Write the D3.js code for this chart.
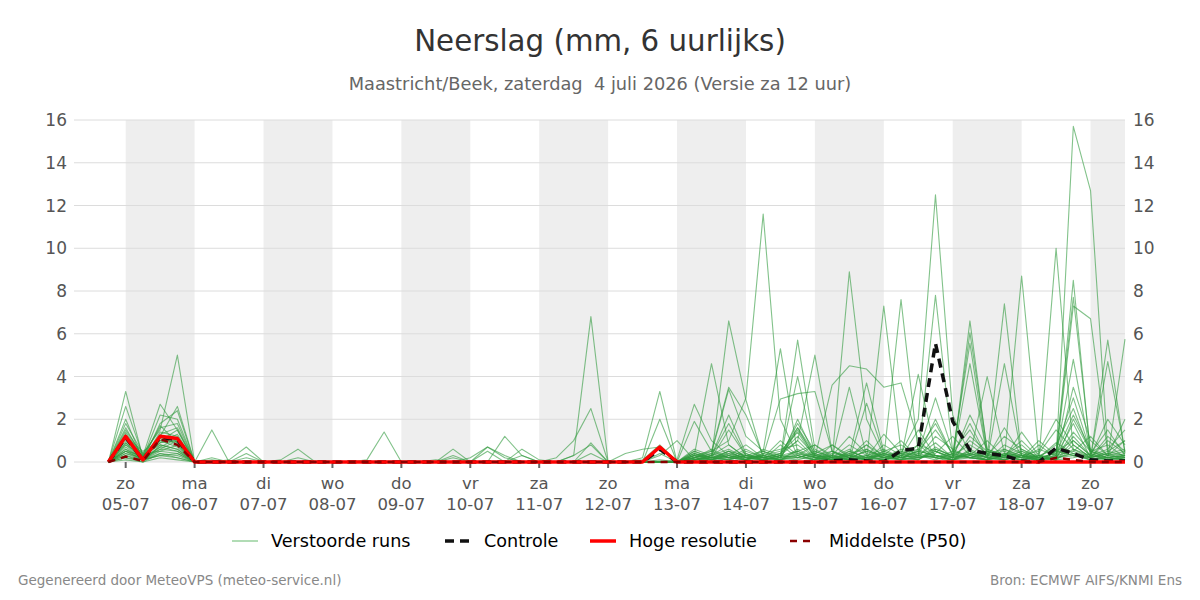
<!DOCTYPE html>
<html><head><meta charset="utf-8">
<script src="https://cdn.jsdelivr.net/npm/d3@7"></script>
<style>
body{margin:0;background:#fff}
text{font-family:"DejaVu Sans",sans-serif}
</style></head>
<body><svg id="c" width="1200" height="600"></svg>
<script>
// ---------- DATA ----------
const title = "Neerslag (mm, 6 uurlijks)";
const subtitle = "Maastricht/Beek, zaterdag  4 juli 2026 (Versie za 12 uur)";
const dayNames = ["zo","ma","di","wo","do","vr","za","zo","ma","di","wo","do","vr","za","zo"];
const dayDates = ["05-07","06-07","07-07","08-07","09-07","10-07","11-07","12-07","13-07","14-07","15-07","16-07","17-07","18-07","19-07"];
const yTicks = [0,2,4,6,8,10,12,14,16];
const firstStepUTC = [2026,6,4,18]; // 4 juli 18:00, 6-uurs stappen
const stepHours = 6;

// Hoge resolutie (60 stappen)
const hires = [0,1.2,0.1,1.2,1.1,0, 0,0,0,0,0,0,0,0,0,0,0,0,0,0,0,0,0,0,0,0,0, 0,0,0,0,0,0.7,0, 0,0,0,0,0,0,0,0,0,0,0,0,0,0,0,0,0,0,0,0,0,0,0,0,0,0];
// Controle
const control = [0,1.15,0.1,1.15,1.05,0, 0,0,0,0,0,0,0,0,0,0,0,0,0,0,0,0,0,0,0,0,0, 0,0,0,0,0,0.6,0, 0,0,0,0,0,0,0,0,0.05,0.1,0.05,0,0.53,0.65,5.55,1.9,0.56,0.4,0.3,0.05,0,0.65,0.4,0.1,0.05,0.05];
// Middelste (P50)
const p50 = [0,0.25,0.05,1.07,0.8,0, 0,0,0,0,0,0,0,0,0,0,0,0,0,0,0,0,0,0,0,0,0, 0,0,0,0,0,0,0, 0,0,0,0,0,0,0,0,0,0,0,0,0,0,0,0,0,0,0,0,0,0.2,0.1,0,0,0];

// Verstoorde runs
const members = [
[0,3.3,0.2,1.2,2.6,0, 0.2,0,0,0,0,0,0,0,0,0,0,0,0,0,0,0,0,0,0,0,0, 0,0,0,0,0,0,0, 0.2,0.5,1.0,3.0,11.6,2.0,0.3,0.1,0.5,0.2,0.8,0.1,0.3,0.5,1.5,0.4,0.2,0.1,0.6,0.3,0,0.5,1.0,0.3,0.2,0.4],
[0,2.6,0.3,2.7,1.5,0, 0.1,0,0,0,0,0,0,0,0,0,0,0,0,0,0,0,0,0,0,0,0, 0,0,0,0,0,0,0.1, 2.7,1.0,0.3,0.1,0.5,0.2,1.5,0.3,0.1,8.9,2.0,0.3,0.1,0.8,0.2,0,1.2,0.5,0.3,1.0,0.2,0.1,2.0,0.5,0.3,1.0],
[0,2.0,0.1,1.8,2.4,0, 1.5,0,0,0,0,0,0,0,0,0,0,0,0,0,0,0,0,0,0,0,0, 0,0,0,0,0,0,0, 0.3,4.6,0.8,0.2,0.1,0.3,1.8,0.5,0.2,0.1,0.6,0.2,0.4,2.0,12.5,2.2,0.3,0.1,0.8,0.4,0.1,0.5,0.3,0.2,1.2,0.5],
[0,1.8,0.4,1.5,5.0,0, 0,0.1,0.7,0,0,0,0,0,0,0,0,0,0,0,0,0,0,0,0,0,0, 0,0,0,0,0,0,0, 0.1,0.2,6.6,2.9,0.2,0.1,0.3,0.8,0.2,0.1,0.3,0.1,0.2,0.5,0.3,0.1,0.4,0.2,0.1,0.3,0,0.2,15.7,12.7,0.5,0.3],
[0,1.6,0.2,2.2,2.0,0, 0,0,0.4,0,0,0,0,0,0,0,0,0,0,0,0,0,0,0,0,0,0, 0,0,0,0,0,0,0, 1.9,0.5,3.5,2.2,0.3,0.1,0.5,0.2,0.1,0.3,0.1,0.5,0.2,0.1,0.6,0.3,0.2,0.1,0.3,0.8,0.1,10.0,0.5,0.2,0.1,0.3],
[0,1.5,0.3,1.6,1.8,0, 0,0,0.2,0,0,0,0,0,0,0,0,0,0,0,0,0,0,0,0,0,0, 0,0,0,0,0,0,0, 0.2,0.4,3.4,1.2,0.5,5.3,0.4,0.2,0.1,0.5,0.2,0.1,0.4,0.3,0.2,0.1,6.6,0.5,0.2,0.1,0.3,0.2,0.4,0.1,0.2,0.1],
[0,1.3,0.1,1.4,1.2,0, 0,0,0,0,0.1,0.6,0,0,0,0,0,0,0,0,0,0,0,0,0,0,0, 0,0,0,0,0,0,0, 0.1,0.3,2.2,0.4,0.1,0.2,5.7,0.6,0.2,0.4,0.1,7.3,0.5,0.2,0.3,0.1,0.2,0.4,0.1,0.3,0.2,0.1,0.6,0.2,5.7,0.4],
[0,1.2,0.5,1.0,1.5,0, 0,0,0,0,0,0.2,0,0,0,0,0,0,0,0,0,0,0,0,0,0,0, 0,0,0,0,0,0,0, 0.5,0.2,0.3,0.1,0.4,0.2,4.0,0.3,0.1,0.2,0.5,0.2,7.6,0.4,0.2,0.1,0.5,0.2,7.4,0.3,0.1,0.2,0.4,0.1,0.3,0.2],
[0,1.0,0.2,0.9,1.0,0, 0,0,0,0,0,0,0,0,0,0.1,1.4,0,0,0,0,0,0,0,0,0,0, 0,0,0,0,0,0,0, 0.2,0.1,0.5,0.3,0.2,0.4,1.0,5.0,0.5,0.1,0.2,0.3,0.1,0.2,7.8,0.5,0.2,0.1,0.3,0.2,0.1,0.3,8.5,0.3,0.2,5.75],
[0,0.9,0.1,1.2,0.8,0, 0,0,0,0,0,0,0,0,0,0,0,0,0,0,0.6,0,0,0,0,0,0, 0,0,0,0,0,0,0, 0.4,0.2,0.1,0.3,0.2,0.1,0.6,0.2,3.6,4.5,4.35,3.5,3.7,1.0,0.3,0.2,0.4,0.1,0.2,8.7,0.3,0.1,0.2,0.4,0.1,0.2],
[0,0.8,0.3,0.8,0.6,0, 0,0,0,0,0,0,0,0,0,0,0,0,0,0,0.3,0,0,0,0,0,0, 0,0,0,0,0,0,0, 0.3,0.5,0.2,0.1,0.3,2.95,3.2,3.3,0.5,0.2,0.1,0.4,0.2,0.1,0.5,0.2,6.05,0.6,0.3,0.1,0.2,0.4,7.7,0.5,0.2,0.1],
[0,0.7,0.1,0.7,1.1,0, 0,0,0,0,0,0,0,0,0,0,0,0,0,0,0.2,0,0,0,0,0,0, 0,0,0,0,0,0,0, 0.1,0.3,0.6,0.2,0.1,0.3,0.2,0.5,0.2,3.5,0.3,0.2,0.1,0.3,0.2,0.4,5.55,0.3,0.2,0.1,0.3,0.2,7.3,6.7,0.4,0.3],
[0,0.6,0.2,1.7,0.9,0, 0,0,0,0,0,0,0,0,0,0,0,0,0,0,0,0.2,0.7,0.3,0,0,0, 0,0,0,0,0,0,0, 0.2,0.1,0.4,0.2,0.3,0.1,0.2,0.4,0.1,0.3,3.7,0.5,0.2,4.1,0.5,0.2,4.6,0.3,0.2,0.5,0.1,0.3,4.8,0.4,0.2,0.3],
[0,0.5,0.1,0.6,0.5,0, 0,0,0,0,0,0,0,0,0,0,0,0,0,0,0,0,0.7,0.2,0,0,0, 0,0,0,0,0,0,0, 0.3,0.2,0.1,0.5,0.2,0.4,1.2,0.3,0.2,0.1,2.75,0.4,0.2,0.5,0.3,0.1,0.3,4.0,0.4,0.2,0.1,0.5,0.3,0.2,4.7,0.5],
[0,0.5,0.3,1.0,0.7,0, 0,0,0,0,0,0,0,0,0,0,0,0,0,0,0,0,0,1.2,0.3,0,0, 0,0,0,0,0,0,0, 0.1,0.2,1.5,0.3,0.1,0.2,1.6,0.4,0.1,0.2,0.3,0.1,0.5,0.3,2.0,0.3,0.2,0.1,4.6,0.3,0.2,0.1,3.5,1.0,0.3,2.0],
[0,0.4,0.1,0.5,0.4,0, 0,0,0,0,0,0,0,0,0,0,0,0,0,0,0,0,0,0,0.6,0.1,0, 0,0,0,0,0,0,0, 0.6,0.3,0.8,0.2,0.3,0.5,1.4,0.2,0.3,1.2,0.4,0.2,0.6,0.4,3.0,0.5,1.5,0.2,0.4,0.3,0.5,2.0,0.8,0.2,0.5,1.0],
[0,0.4,0.2,0.9,1.3,0, 0,0,0,0,0,0,0,0,0,0,0,0,0,0.1,0,0,0.5,0,0.3,0,0, 0,0,0,0,0,0,0, 0.2,0.4,0.2,0.6,0.2,1.0,0.3,0.1,0.8,0.3,0.2,1.3,0.4,0.6,1.8,0.3,0.8,0.3,1.2,0.6,0.2,0.8,2.5,0.4,1.5,0.3],
[0,0.3,0.1,0.4,0.3,0, 0,0,0,0,0,0,0,0,0,0,0,0,0,0,0,0,0,0,0,0,0, 0.3,6.8,0,0,0,0,0, 0.1,0.2,0.5,0.1,0.6,0.3,0.2,0.4,0.8,0.2,0.5,0.3,1.0,0.2,0.4,1.2,0.3,0.5,0.2,1.4,0.3,0.6,3.0,0.5,0.8,0.2],
[0,0.3,0,0.8,0.6,0, 0,0,0,0,0,0,0,0,0,0,0,0,0,0,0,0,0,0,0,0,0.2, 1.0,2.5,0,0,0,0,0, 0.4,0.1,0.3,0.8,0.2,0.1,2.0,0.3,0.2,0.6,0.1,0.4,0.2,1.5,0.3,0.2,2.2,0.6,0.3,0.2,1.0,0.3,1.8,0.2,0.4,0.6],
[0,0.2,0.1,0.3,0.2,0, 0,0,0,0,0,0,0,0,0,0,0,0,0,0,0,0,0,0,0,0,0, 0,0.9,0,0,0,0,0, 0.2,0.6,0.2,0.1,0.4,0.6,0.8,0.2,0.1,0.4,0.6,0.2,0.3,0.8,0.5,0.2,1.0,0.4,0.6,0.2,0.4,1.5,0.6,0.3,2.0,0.8],
[0,1.4,0.2,0.6,1.0,0, 0,0,0,0,0,0,0,0,0,0,0,0,0,0,0,0,0,0,0,0,0, 0.3,0.8,0,0,0,0,0, 0.1,0.3,0.2,0.4,0.1,0.3,0.5,0.8,0.3,0.2,1.0,0.2,0.1,0.6,0.2,0.5,0.3,1.0,0.2,0.5,0.2,0.4,2.2,0.6,0.3,0.5],
[0,0.1,0,0.2,0.1,0, 0,0,0,0,0,0,0,0,0,0,0,0,0,0,0,0,0,0,0,0,0, 0,0.4,0,0,0,0.1,0, 0.5,0.2,0.4,0.2,0.1,0.2,0.3,0.1,0.2,0.8,0.3,0.6,0.2,0.3,0.9,0.2,0.5,0.2,1.6,0.3,0.1,0.2,1.2,0.3,0.6,1.5],
[0,0.8,0.1,1.1,0.9,0, 0,0,0,0,0,0,0,0,0,0,0,0,0,0,0,0,0,0,0,0,0, 0,0,0,0.4,0.6,0.7,0, 0.3,0.1,0.2,0.3,0.5,0.2,0.1,0.3,0.5,0.2,0.1,0.8,0.3,0.2,1.2,0.6,0.2,0.3,0.5,0.2,0.6,0.3,0.5,1.2,0.3,0.2],
[0,1.1,0.4,0.5,0.8,0, 0,0,0,0,0,0,0,0,0,0,0,0,0,0,0,0,0,0,0,0,0, 0,0,0,0,0.2,3.3,0, 0.2,0.3,1.8,0.3,0.2,0.4,1.6,0.2,0.4,0.3,0.8,0.3,0.2,0.4,0.6,0.3,1.8,0.2,0.3,0.6,0.2,0.9,0.4,0.2,1.0,0.4],
[0,0.6,0.1,1.3,1.6,0, 0,0,0,0,0,0,0,0,0,0,0,0,0,0,0,0,0,0,0,0,0, 0,0,0,0,0,2.0,0, 0.1,0.1,0.3,0.2,0.1,0.8,0.2,0.1,0.3,0.1,0.2,0.5,0.8,0.3,0.1,0.4,0.2,0.5,0.3,0.1,0.8,0.2,1.4,0.5,0.2,0.3],
[0,0.2,0,0.4,0.2,0, 0,0,0,0,0,0,0,0,0,0,0,0,0,0,0,0,0,0,0,0,0, 0,0,0,0,0.1,0.8,0, 0.3,0.2,0.5,0.1,0.2,0.3,1.0,0.2,0.1,0.5,0.2,0.1,0.3,0.2,0.5,0.1,0.4,0.2,0.1,0.4,0.2,0.1,0.8,0.2,0.4,0.1],
[0,0.9,0.2,0.7,0.5,0, 0,0,0,0,0,0,0,0,0,0,0,0,0,0,0,0,0,0,0,0,0, 0,0,0,0,0,0.3,1.0, 0.1,0.2,0.1,0.3,0.2,0.1,0.4,0.2,0.3,0.1,0.2,0.4,0.1,0.2,0.3,0.1,0.6,0.2,0.1,0.3,0.1,0.2,0.3,0.1,0.2,0.1],
[0,0.5,0.1,0.3,0.4,0, 0,0,0,0,0,0,0,0,0,0,0,0,0,0,0,0,0,0,0,0,0, 0,0,0,0,0,0.4,0, 0.4,0.2,0.2,0.1,0.3,0.2,0.5,0.1,0.2,0.3,0.1,0.2,0.4,0.1,0.7,0.2,0.3,0.1,0.4,0.2,0.3,0.1,1.0,0.3,0.1,0.2]
];

// ---------- LAYOUT ----------
const pL = 74, pR = 1125, pT = 120, pB = 462;
const svg = d3.select("#c");

const x = d3.scaleUtc()
  .domain([new Date(Date.UTC(2026,6,4,6)), new Date(Date.UTC(2026,6,19,12))])
  .range([pL, pR]);
const y = d3.scaleLinear().domain([0,16]).range([pB, pT]);

const t0 = Date.UTC(...firstStepUTC);
const timeAt = i => new Date(t0 + i*stepHours*3600e3);

// shaded alternate days
const dayStart = d3.utcDay.range(new Date(Date.UTC(2026,6,5)), new Date(Date.UTC(2026,6,20)));
svg.append("g").selectAll("rect")
  .data(dayStart.filter((d,i)=>i%2===0))
  .join("rect")
  .attr("x", d=>x(d))
  .attr("width", d=>Math.min(x(d3.utcDay.offset(d,1)), pR) - x(d))
  .attr("y", pT).attr("height", pB-pT)
  .attr("fill", "#eeeeee");

// grid
svg.append("g").selectAll("line").data(yTicks).join("line")
  .attr("x1", pL).attr("x2", pR)
  .attr("y1", d=>y(d)).attr("y2", d=>y(d))
  .attr("stroke", "#dcdcdc").attr("stroke-width", 1);

// y axes labels
const yl = svg.append("g").attr("font-size", 17).attr("fill", "#555");
yl.selectAll("text.l").data(yTicks).join("text").attr("class","l")
  .attr("x", 67).attr("y", d=>y(d)).attr("dy","0.36em").attr("text-anchor","end").text(d=>d);
yl.selectAll("text.r").data(yTicks).join("text").attr("class","r")
  .attr("x", 1133).attr("y", d=>y(d)).attr("dy","0.36em").attr("text-anchor","start").text(d=>d);

// x ticks
const xg = svg.append("g");
xg.selectAll("line").data(dayStart).join("line")
  .attr("x1", d=>x(d)).attr("x2", d=>x(d))
  .attr("y1", pB).attr("y2", pB+6)
  .attr("stroke", "#666").attr("stroke-width", 2);
xg.selectAll("text.d").data(dayStart).join("text").attr("class","d")
  .attr("x", d=>x(d)).attr("y", 489).attr("text-anchor","middle")
  .attr("font-size", 16.5).attr("fill", "#555").text((d,i)=>dayNames[i]);
xg.selectAll("text.t").data(dayStart).join("text").attr("class","t")
  .attr("x", d=>x(d)).attr("y", 510).attr("text-anchor","middle")
  .attr("font-size", 16.5).attr("fill", "#555").text((d,i)=>dayDates[i]);

// lines
const line = d3.line().x((d,i)=>x(timeAt(i))).y(d=>y(d));
const plot = svg.append("g");
plot.selectAll("path.m").data(members).join("path").attr("class","m")
  .attr("d", line).attr("fill","none")
  .attr("stroke", "#2f9a3c").attr("stroke-opacity", 0.6).attr("stroke-width", 1.1)
  .attr("stroke-linejoin","round");
plot.append("path").attr("d", line(control)).attr("fill","none")
  .attr("stroke","#111").attr("stroke-width",3.5).attr("stroke-dasharray","9,6");
plot.append("path").attr("d", line(hires)).attr("fill","none")
  .attr("stroke","#ff0000").attr("stroke-width",3.5).attr("stroke-linejoin","round");
plot.append("path").attr("d", line(p50)).attr("fill","none")
  .attr("stroke","#8b0000").attr("stroke-width",2.5).attr("stroke-dasharray","7,6");

// titles
svg.append("text").attr("x", 600).attr("y", 51).attr("text-anchor","middle")
  .attr("font-size", 29.3).attr("fill","#333").text(title);
svg.append("text").attr("x", 600).attr("y", 90).attr("text-anchor","middle")
  .attr("font-size", 17.8).attr("fill","#666").style("white-space","pre").text(subtitle);

// legend
const legendItems = [
  {label:"Verstoorde runs", x:232, color:"#7cc583", w:1.2, dash:null},
  {label:"Controle", x:445, color:"#111", w:3.5, dash:"9,6"},
  {label:"Hoge resolutie", x:590, color:"#ff0000", w:3.5, dash:null},
  {label:"Middelste (P50)", x:790, color:"#8b0000", w:2.5, dash:"7,6"}
];
const lg = svg.append("g");
lg.selectAll("line").data(legendItems).join("line")
  .attr("x1", d=>d.x).attr("x2", d=>d.x+26).attr("y1", 541).attr("y2", 541)
  .attr("stroke", d=>d.color).attr("stroke-width", d=>d.w).attr("stroke-dasharray", d=>d.dash);
lg.selectAll("text").data(legendItems).join("text")
  .attr("x", d=>d.x+39).attr("y", 547).attr("font-size", 17.6).attr("fill","#000").text(d=>d.label);

// footer
svg.append("text").attr("x", 18).attr("y", 585).attr("font-size", 13.5).attr("fill","#888")
  .text("Gegenereerd door MeteoVPS (meteo-service.nl)");
svg.append("text").attr("x", 1182).attr("y", 585).attr("text-anchor","end").attr("font-size", 13.5).attr("fill","#888")
  .text("Bron: ECMWF AIFS/KNMI Ens");
</script></body></html>
